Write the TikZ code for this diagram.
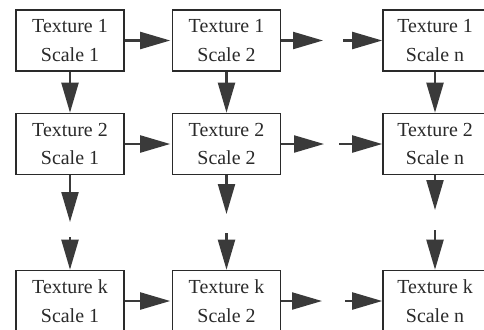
\documentclass[tikz,border=0pt]{standalone}
\usepackage{fontspec}
\setmainfont{Liberation Serif}
\usetikzlibrary{arrows.meta}
\definecolor{ink}{HTML}{2A2A2A}
\definecolor{arr}{HTML}{3A3A3A}
\tikzset{
  cell/.style={draw=ink, line width=1.6bp, fill=white, minimum width=108bp, minimum height=61bp,
    inner sep=0pt, align=center, font=\fontsize{20}{29}\selectfont, text=ink},
  cellc/.style={cell, minimum width=104bp},
  flow/.style={draw=arr, line width=2.2bp, -{Triangle[length=30bp,width=17bp]}, color=arr},
}
\begin{document}
\begin{tikzpicture}[x=1bp,y=-1bp]
\useasboundingbox (0,0) rectangle (484,329);
\clip (0,0) rectangle (484,329);
% nodes
\node[cell]  (a1) at (70,40.5)  {Texture 1\\Scale 1};
\node[cell]  (a2) at (226.5,40.5) {Texture 1\\Scale 2};
\node[cellc] (a3) at (435,40.5) {Texture 1\\Scale n};
\node[cell]  (b1) at (70,144)  {Texture 2\\Scale 1};
\node[cell]  (b2) at (226.5,144) {Texture 2\\Scale 2};
\node[cellc] (b3) at (435,144) {Texture 2\\Scale n};
\node[cell]  (c1) at (70,301)  {Texture k\\Scale 1};
\node[cell]  (c2) at (226.5,301) {Texture k\\Scale 2};
\node[cellc] (c3) at (435,301) {Texture k\\Scale n};
% free ends of the broken arrows
\coordinate (ha1) at (323,40.5);  \coordinate (hb1) at (343,40.5);
\coordinate (ha2) at (324,144);   \coordinate (hb2) at (339,144);
\coordinate (ha3) at (322,301);   \coordinate (hb3) at (345,301);
\coordinate (va1) at (70,222);    \coordinate (vb1) at (70,237);
\coordinate (va2) at (226.5,214); \coordinate (vb2) at (226.5,233);
\coordinate (va3) at (435,210);   \coordinate (vb3) at (435,230);
% horizontal arrows
\draw[flow, shorten >=1.5bp] (a1.east) -- (a2.west);
\draw[flow, shorten >=1.5bp] (b1.east) -- (b2.west);
\draw[flow, shorten >=1.5bp] (c1.east) -- (c2.west);
\draw[flow] (a2.east) -- (ha1);
\draw[flow] (hb1) -- (a3.west);
\draw[flow] (b2.east) -- (ha2);
\draw[flow] (hb2) -- (b3.west);
\draw[flow] (c2.east) -- (ha3);
\draw[flow] (hb3) -- (c3.west);
% vertical arrows
\draw[flow] (a1.south) -- (b1.north);
\draw[flow] (a2.south) -- (b2.north);
\draw[flow] (a3.south) -- (b3.north);
\draw[flow] (b1.south) -- (va1);
\draw[flow] (vb1) -- (c1.north);
\draw[flow] (b2.south) -- (va2);
\draw[flow] (vb2) -- (c2.north);
\draw[flow] (b3.south) -- (va3);
\draw[flow] (vb3) -- (c3.north);
\end{tikzpicture}
\end{document}
